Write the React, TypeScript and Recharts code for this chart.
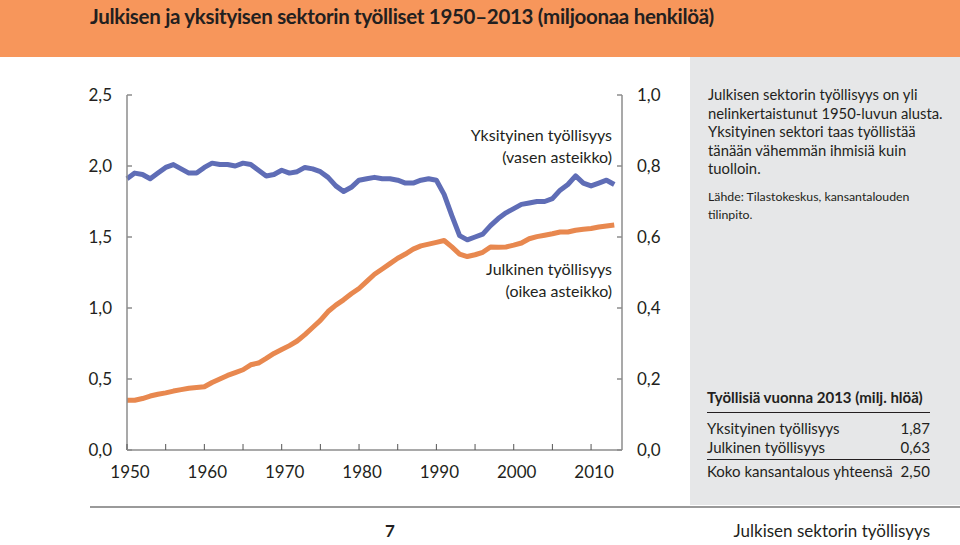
import React from 'react';
import { LineChart, Line, XAxis, YAxis } from 'recharts';

const years = [
  1950, 1951, 1952, 1953, 1954, 1955, 1956, 1957, 1958, 1959,
  1960, 1961, 1962, 1963, 1964, 1965, 1966, 1967, 1968, 1969,
  1970, 1971, 1972, 1973, 1974, 1975, 1976, 1977, 1978, 1979,
  1980, 1981, 1982, 1983, 1984, 1985, 1986, 1987, 1988, 1989,
  1990, 1991, 1992, 1993, 1994, 1995, 1996, 1997, 1998, 1999,
  2000, 2001, 2002, 2003, 2004, 2005, 2006, 2007, 2008, 2009,
  2010, 2011, 2012, 2013,
];

// Yksityinen työllisyys, milj. (vasen asteikko)
const privateEmp = [
  1.91, 1.95, 1.94, 1.91, 1.95, 1.99, 2.01, 1.98, 1.95, 1.95,
  1.99, 2.02, 2.01, 2.01, 2.0, 2.02, 2.01, 1.97, 1.93, 1.94,
  1.97, 1.95, 1.96, 1.99, 1.98, 1.96, 1.92, 1.86, 1.82, 1.85,
  1.9, 1.91, 1.92, 1.91, 1.91, 1.9, 1.88, 1.88, 1.9, 1.91,
  1.9, 1.8, 1.65, 1.51, 1.48, 1.5, 1.52, 1.58, 1.63, 1.67,
  1.7, 1.73, 1.74, 1.75, 1.75, 1.77, 1.83, 1.87, 1.93, 1.88,
  1.86, 1.88, 1.9, 1.87,
];

// Julkinen työllisyys, milj. (oikea asteikko)
const publicEmp = [
  0.14, 0.14, 0.145, 0.152, 0.157, 0.161, 0.166, 0.17, 0.174, 0.176,
  0.178, 0.19, 0.2, 0.21, 0.218, 0.226, 0.24, 0.245, 0.258, 0.272,
  0.283, 0.294, 0.307, 0.325, 0.345, 0.365, 0.39, 0.408, 0.423, 0.44,
  0.455, 0.475, 0.495, 0.51, 0.525, 0.54, 0.552, 0.566, 0.575, 0.58,
  0.585, 0.59, 0.572, 0.552, 0.545, 0.55, 0.557, 0.572, 0.571, 0.572,
  0.577, 0.583, 0.595, 0.601, 0.605, 0.609, 0.614, 0.614, 0.619, 0.622,
  0.624, 0.628, 0.631, 0.634,
];

const xTicks = [1950, 1955, 1960, 1965, 1970, 1975, 1980, 1985, 1990, 1995, 2000, 2005, 2010];
const leftTicks = [0, 0.5, 1, 1.5, 2, 2.5];
const rightTicks = [0, 0.2, 0.4, 0.6, 0.8, 1];

const tableRows = [
  { label: 'Yksityinen työllisyys', value: '1,87' },
  { label: 'Julkinen työllisyys', value: '0,63' },
];
const tableTotal = { label: 'Koko kansantalous yhteensä', value: '2,50' };

const data = years.map((year, i) => ({
  year,
  private: privateEmp[i],
  public: publicEmp[i],
}));

const FONT = 'Lato, "Open Sans", sans-serif';
const TEXT = '#231f20';
const AXIS = '#8c8c8c';
const BLUE = '#5f6db6';
const ORANGE = '#e8884f';

const fmt = (v: number) => v.toFixed(1).replace('.', ',');

const LeftTick = (props: any) => {
  const { x, y, payload } = props;
  return (
    <g>
      <line x1={x + 15} x2={x + 20} y1={y} y2={y} stroke={AXIS} strokeWidth={1.5} />
      <text x={x} y={y} dy="0.35em" textAnchor="end" fill={TEXT} fontSize={17} fontFamily={FONT}>
        {fmt(payload.value)}
      </text>
    </g>
  );
};

const RightTick = (props: any) => {
  const { x, y, payload } = props;
  return (
    <g>
      <line x1={x - 15} x2={x - 20} y1={y} y2={y} stroke={AXIS} strokeWidth={1.5} />
      <text x={x} y={y} dy="0.35em" textAnchor="start" fill={TEXT} fontSize={17} fontFamily={FONT}>
        {fmt(payload.value)}
      </text>
    </g>
  );
};

const YearTick = (props: any) => {
  const { x, y, payload } = props;
  const v = payload.value as number;
  return (
    <g>
      <line x1={x} x2={x} y1={y - 8} y2={y - 14} stroke="#555" strokeWidth={1} />
      {v % 10 === 0 && (
        <text x={x + 3} y={y + 20} textAnchor="middle" fill={TEXT} fontSize={17} fontFamily={FONT}>
          {v}
        </text>
      )}
    </g>
  );
};

const note: React.CSSProperties = {
  position: 'absolute',
  right: 960 - 612,
  textAlign: 'right',
  fontSize: 16,
  lineHeight: '22px',
  color: TEXT,
  whiteSpace: 'nowrap',
};

export default function App() {
  return (
    <div
      style={{
        position: 'absolute',
        left: 0,
        top: 0,
        width: 960,
        height: 545,
        background: '#fff',
        fontFamily: FONT,
        color: TEXT,
        overflow: 'hidden',
      }}
    >
      <div style={{ position: 'absolute', left: 0, top: 0, width: 960, height: 57, background: '#f7965b' }} />
      <div
        style={{
          position: 'absolute',
          left: 90,
          top: 3,
          fontSize: 20.5,
          fontWeight: 700,
          lineHeight: '26px',
          whiteSpace: 'nowrap',
          letterSpacing: -0.3,
        }}
      >
        Julkisen ja yksityisen sektorin työlliset 1950–2013 (miljoonaa henkilöä)
      </div>

      <div style={{ position: 'absolute', left: 690, top: 57, width: 270, height: 448, background: '#e6e7e8' }} />
      <div
        style={{
          position: 'absolute',
          left: 708,
          top: 85,
          fontSize: 14.8,
          lineHeight: '18.5px',
          whiteSpace: 'nowrap',
        }}
      >
        Julkisen sektorin työllisyys on yli
        <br />
        nelinkertaistunut 1950-luvun alusta.
        <br />
        Yksityinen sektori taas työllistää
        <br />
        tänään vähemmän ihmisiä kuin
        <br />
        tuolloin.
      </div>
      <div
        style={{
          position: 'absolute',
          left: 708,
          top: 188,
          fontSize: 12.3,
          lineHeight: '18px',
          whiteSpace: 'nowrap',
        }}
      >
        Lähde: Tilastokeskus, kansantalouden
        <br />
        tilinpito.
      </div>

      <div style={{ position: 'absolute', left: 707, top: 387, width: 223, fontSize: 15 }}>
        <div style={{ fontWeight: 700, lineHeight: '20px', whiteSpace: 'nowrap' }}>
          Työllisiä vuonna 2013 (milj. hlöä)
        </div>
        <div style={{ borderTop: `1px solid ${TEXT}`, marginTop: 5, paddingTop: 6 }}>
          {tableRows.map((r) => (
            <div key={r.label} style={{ display: 'flex', justifyContent: 'space-between', lineHeight: '19px' }}>
              <span>{r.label}</span>
              <span>{r.value}</span>
            </div>
          ))}
        </div>
        <div
          style={{
            borderTop: `1px solid ${TEXT}`,
            marginTop: 2,
            paddingTop: 2,
            display: 'flex',
            justifyContent: 'space-between',
            lineHeight: '19px',
            whiteSpace: 'nowrap',
          }}
        >
          <span>{tableTotal.label}</span>
          <span>{tableTotal.value}</span>
        </div>
      </div>

      <div style={{ position: 'absolute', left: 0, top: 0 }}>
        <LineChart width={700} height={545} data={data} margin={{ top: 95, right: 28, bottom: 55, left: 87 }}>
          <XAxis
            dataKey="year"
            type="number"
            domain={[1950, 2014]}
            ticks={xTicks}
            interval={0}
            height={40}
            tickSize={0}
            tickMargin={8}
            axisLine={{ stroke: '#555', strokeWidth: 1.2 }}
            tickLine={false}
            tick={<YearTick />}
          />
          <YAxis
            yAxisId="left"
            orientation="left"
            domain={[0, 2.5]}
            ticks={leftTicks}
            width={40}
            tickSize={0}
            tickMargin={15}
            axisLine={{ stroke: AXIS, strokeWidth: 1.5 }}
            tickLine={false}
            tick={<LeftTick />}
          />
          <YAxis
            yAxisId="right"
            orientation="right"
            domain={[0, 1]}
            ticks={rightTicks}
            width={50}
            tickSize={0}
            tickMargin={15}
            axisLine={{ stroke: AXIS, strokeWidth: 1.5 }}
            tickLine={false}
            tick={<RightTick />}
          />
          <Line
            yAxisId="right"
            type="linear"
            dataKey="public"
            stroke={ORANGE}
            strokeWidth={5}
            dot={false}
            strokeLinejoin="round"
            isAnimationActive={false}
          />
          <Line
            yAxisId="left"
            type="linear"
            dataKey="private"
            stroke={BLUE}
            strokeWidth={5}
            dot={false}
            strokeLinejoin="round"
            isAnimationActive={false}
          />
        </LineChart>
      </div>

      <div style={{ ...note, top: 124 }}>
        Yksityinen työllisyys
        <br />
        (vasen asteikko)
      </div>
      <div style={{ ...note, top: 258 }}>
        Julkinen työllisyys
        <br />
        (oikea asteikko)
      </div>

      <div style={{ position: 'absolute', left: 90, top: 506, width: 870, height: 2, background: '#9a9a9a' }} />
      <div style={{ position: 'absolute', left: 385, top: 520, fontSize: 17, fontWeight: 700, lineHeight: '22px' }}>7</div>
      <div
        style={{
          position: 'absolute',
          right: 30,
          top: 520,
          fontSize: 17,
          lineHeight: '22px',
          whiteSpace: 'nowrap',
        }}
      >
        Julkisen sektorin työllisyys
      </div>
    </div>
  );
}
